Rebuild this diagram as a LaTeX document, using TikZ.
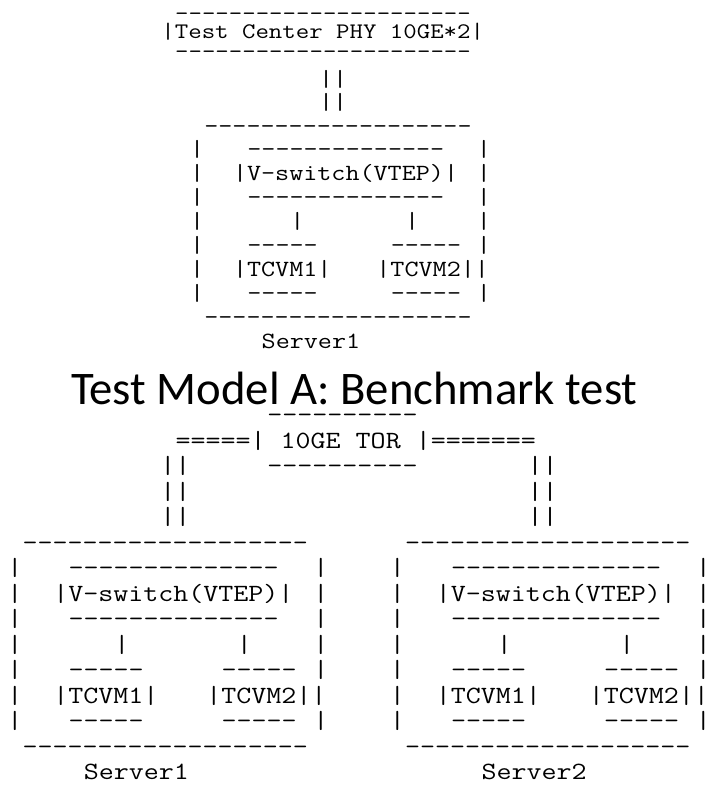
\documentclass[tikz,border=0pt]{standalone}
\usepackage{fontspec}
\usepackage{graphicx}
\newfontfamily\capfont{Carlito}
\newcount\hycnt
\newcount\nodecnt
\newcommand\hy[1]{\hycnt=#1\relax\loop\ifnum\hycnt>0 -\kern0pt\advance\hycnt by -1\repeat}
\tikzset{
  asc/.style={inner sep=0pt, outer sep=0pt, anchor=base west, text=black},
  ascT/.style={asc, font=\fontsize{26.1}{26.1}\selectfont\ttfamily},
  ascA/.style={asc, font=\fontsize{27.31}{27.31}\selectfont\ttfamily},
  ascB/.style={asc, font=\fontsize{29.14}{29.14}\selectfont\ttfamily},
  caption/.style={inner sep=0pt, anchor=base west, font=\capfont\fontsize{46.7}{50}\selectfont}
}
\newcommand\rowT[3]{\global\advance\nodecnt by 1
  \node[ascT] (t\the\nodecnt) at ({161.45pt+#1*13.7pt},{-#2pt}) {\scalebox{1}[0.85]{#3}};}
\newcommand\rowA[3]{\global\advance\nodecnt by 1
  \node[ascA] (a\the\nodecnt) at ({161.33pt+#1*14.34pt},{-#2pt}) {\scalebox{1}[0.85]{#3}};}
\newcommand\rowB[3]{\global\advance\nodecnt by 1
  \node[ascB] (b\the\nodecnt) at ({7.35pt+#1*15.3pt},{-#2pt}) {\scalebox{1}[0.85]{#3}};}
\begin{document}
\begin{tikzpicture}
\fill[white] (0,0) rectangle (711pt,-787pt);
\useasboundingbox (0,0) rectangle (711pt,-787pt);

% ---------------- Test model A (top) ----------------
\rowT{1}{20}{\hy{22}}
\rowT{0}{38}{|Test~Center~PHY~10GE*2|}
\rowT{1}{58}{\hy{22}}
\rowA{11}{86}{||}
\rowA{11}{109}{||}
% server 1 box (top)
\rowA{3}{133}{\hy{19}}
\rowA{2}{156.9}{|}\rowA{6}{156.9}{\hy{14}}\rowA{22}{156.9}{|}
\rowA{2}{180.8}{|}\rowA{5}{180.8}{|V-switch(VTEP)|}\rowA{22}{180.8}{|}
\rowA{2}{204.7}{|}\rowA{6}{204.7}{\hy{14}}\rowA{22}{204.7}{|}
\rowA{2}{228.6}{|}\rowA{9}{228.6}{|}\rowA{17}{228.6}{|}\rowA{22}{228.6}{|}
\rowA{2}{252.5}{|}\rowA{6}{252.5}{\hy{5}}\rowA{16}{252.5}{\hy{5}}\rowA{22}{252.5}{|}
\rowA{2}{276.4}{|}\rowA{5}{276.4}{|TCVM1|}\rowA{15}{276.4}{|TCVM2||}
\rowA{2}{300.3}{|}\rowA{6}{300.3}{\hy{5}}\rowA{16}{300.3}{\hy{5}}\rowA{22}{300.3}{|}
\rowA{3}{324.2}{\hy{19}}
\rowA{7}{348.1}{Server1}

% caption
\node[caption] (cap) at (70.8pt,-404pt) {Test Model A: Benchmark test};

% ---------------- bottom ----------------
\rowB{17}{422.5}{\hy{10}}
\rowB{11}{448}{=====|~10GE~TOR~|=======}
\rowB{10}{473.5}{||}\rowB{17}{473.5}{\hy{10}}\rowB{34}{473.5}{||}
\rowB{10}{499}{||}\rowB{34}{499}{||}
\rowB{10}{524.5}{||}\rowB{34}{524.5}{||}
% server boxes
\rowB{1}{550}{\hy{19}}\rowB{26}{550}{\hy{19}}
\rowB{0}{575.5}{|}\rowB{4}{575.5}{\hy{14}}\rowB{20}{575.5}{|}
\rowB{25}{575.5}{|}\rowB{29}{575.5}{\hy{14}}\rowB{45}{575.5}{|}
\rowB{0}{601}{|}\rowB{3}{601}{|V-switch(VTEP)|}\rowB{20}{601}{|}
\rowB{25}{601}{|}\rowB{28}{601}{|V-switch(VTEP)|}\rowB{45}{601}{|}
\rowB{0}{626.5}{|}\rowB{4}{626.5}{\hy{14}}\rowB{20}{626.5}{|}
\rowB{25}{626.5}{|}\rowB{29}{626.5}{\hy{14}}\rowB{45}{626.5}{|}
\rowB{0}{652}{|}\rowB{7}{652}{|}\rowB{15}{652}{|}\rowB{20}{652}{|}
\rowB{25}{652}{|}\rowB{32}{652}{|}\rowB{40}{652}{|}\rowB{45}{652}{|}
\rowB{0}{677.5}{|}\rowB{4}{677.5}{\hy{5}}\rowB{14}{677.5}{\hy{5}}\rowB{20}{677.5}{|}
\rowB{25}{677.5}{|}\rowB{29}{677.5}{\hy{5}}\rowB{39}{677.5}{\hy{5}}\rowB{45}{677.5}{|}
\rowB{0}{703}{|}\rowB{3}{703}{|TCVM1|}\rowB{13}{703}{|TCVM2||}
\rowB{25}{703}{|}\rowB{28}{703}{|TCVM1|}\rowB{38}{703}{|TCVM2||}
\rowB{0}{728.5}{|}\rowB{4}{728.5}{\hy{5}}\rowB{14}{728.5}{\hy{5}}\rowB{20}{728.5}{|}
\rowB{25}{728.5}{|}\rowB{29}{728.5}{\hy{5}}\rowB{39}{728.5}{\hy{5}}\rowB{45}{728.5}{|}
\rowB{1}{754}{\hy{19}}\rowB{26}{754}{\hy{19}}
\rowB{5}{779.5}{Server1}\rowB{31}{779.5}{Server2}
\end{tikzpicture}
\end{document}
